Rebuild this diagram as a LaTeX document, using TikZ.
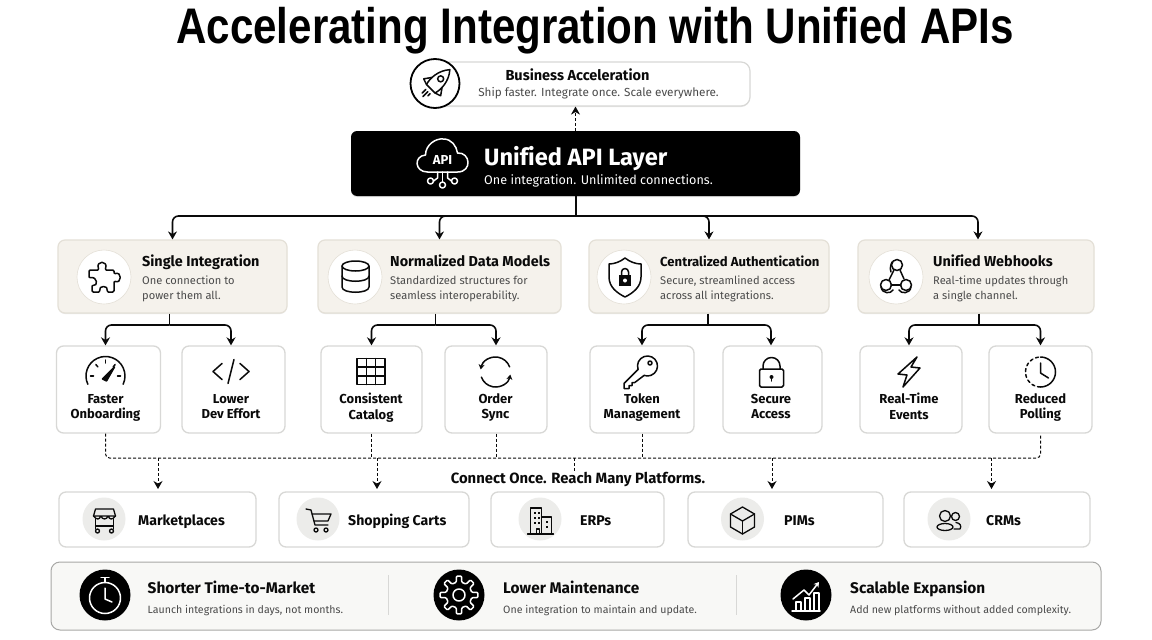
\documentclass[tikz,border=0pt]{standalone}
\usepackage{fontspec}
\usepackage{graphicx}
\setmainfont[Ligatures=NoCommon]{Fira Sans}
\newfontfamily\titlefont{Liberation Sans}
\usetikzlibrary{calc,shadows,arrows.meta}
\definecolor{inkblack}{HTML}{0A0A0A}
\definecolor{subgrey}{HTML}{4A4A4A}
\definecolor{beige}{HTML}{F5F2EC}
\definecolor{beigeline}{HTML}{E4E0D7}
\definecolor{cardline}{HTML}{D8D8D6}
\definecolor{discgrey}{HTML}{ECECEA}
\definecolor{bandfill}{HTML}{F8F8F6}
\definecolor{bandline}{HTML}{A8A8A6}
\tikzset{>={Stealth[length=8pt,width=9pt]},
  topcard/.style={draw=cardline, line width=1.2pt, fill=white, rounded corners=9, drop shadow={shadow xshift=0pt, shadow yshift=-1pt, opacity=.18}},
  layerbox/.style={fill=black, rounded corners=6, drop shadow={shadow xshift=0pt, shadow yshift=-1pt, opacity=.25}},
  groupcard/.style={draw=beigeline, line width=1.2pt, fill=beige, rounded corners=7, drop shadow={shadow xshift=0pt, shadow yshift=-1pt, opacity=.18}},
  smallcard/.style={draw=cardline, line width=1.3pt, fill=white, rounded corners=7},
  platcard/.style={draw=cardline, line width=1.3pt, fill=white, rounded corners=7},
  whitedisc/.style={circle, fill=white, draw=beigeline, line width=.6pt, minimum size=54},
  greydisc/.style={circle, fill=discgrey, minimum size=43},
  blackdisc/.style={circle, fill=black, minimum size=51},
  band/.style={draw=bandline, line width=1pt, fill=bandfill, rounded corners=9},
  treeline/.style={->, line width=1.6pt, rounded corners=6, color=inkblack},
  stemline/.style={line width=1.6pt, color=inkblack},
  dashline/.style={dash pattern=on 3pt off 2pt, line width=1pt, color=inkblack, rounded corners=4},
  droparrow/.style={->, dashline},
  icon/.style={line width=1.5pt, line cap=round, line join=round, color=inkblack},
  whiteicon/.style={line width=1.5pt, line cap=round, line join=round, color=white},
  headtext/.style={anchor=base west, inner sep=0, font=\fontsize{14.4}{17}\selectfont\bfseries, text=inkblack},
  subtext/.style={anchor=west, inner sep=0, align=left, font=\fontsize{11.1}{15}\selectfont, text=subgrey, execute at begin node=\strut, execute at end node=\strut},
  labeltext/.style={anchor=center, inner sep=0, align=center, font=\fontsize{13}{15.2}\selectfont\bfseries, text=inkblack, execute at begin node=\strut, execute at end node=\strut},
  plattext/.style={anchor=base west, inner sep=0, font=\fontsize{14.1}{17}\selectfont\bfseries, text=inkblack},
  bandhead/.style={anchor=base west, inner sep=0, font=\fontsize{15.4}{18}\selectfont\bfseries, text=inkblack},
  bandsub/.style={anchor=base west, inner sep=0, font=\fontsize{10.6}{14}\selectfont, text=subgrey},
}
\begin{document}
\begin{tikzpicture}[x=1pt, y=-1pt]
    \useasboundingbox (0,0) rectangle (1152,640);
    \fill[white] (0,0) rectangle (1152,640);
    \node[anchor=base, inner sep=0, font=\titlefont\fontsize{50}{56}\selectfont\bfseries, text=black] (title) at (595,43) {\scalebox{0.842}[1]{Accelerating Integration with Unified APIs}};
    % top of the stack
    \node[topcard, minimum width=315, minimum height=44] (accel) at (592.5,84) {};
    \node[circle, draw=black, fill=white, line width=1.8pt, minimum size=49] (discAccel) at (435,83.5) {};
    \node[anchor=base, inner sep=0, font=\fontsize{14.5}{17}\selectfont\bfseries, text=inkblack] (headAccel) at (577.5,80) {Business Acceleration};
    \node[anchor=base, inner sep=0, font=\fontsize{11.7}{15}\selectfont, text=subgrey] (subAccel) at (598.5,96) {Ship faster. Integrate once. Scale everywhere.};
    \node[layerbox, minimum width=449, minimum height=65] (layer) at (575.5,163.5) {};
    \node[anchor=base west, inner sep=0, font=\fontsize{23.6}{28}\selectfont\bfseries, text=white] (headLayer) at (484,165) {Unified API Layer};
    \node[anchor=base west, inner sep=0, font=\fontsize{12.6}{17}\selectfont, text=white] (subLayer) at (484,184.5) {One integration. Unlimited connections.};
    \draw[droparrow] (layer.north) -- (layer.north |- accel.south);
    % second row
    \node[groupcard, minimum width=229, minimum height=73] (cardSingle) at (172.5,276.5) {};
    \node[groupcard, minimum width=243, minimum height=73] (cardModels) at (439.5,276.5) {};
    \node[groupcard, minimum width=240, minimum height=73] (cardAuth) at (709,276.5) {};
    \node[groupcard, minimum width=236, minimum height=73] (cardHooks) at (976,276.5) {};
    \node[whitedisc] (discSingle) at (104,277) {};
    \node[whitedisc] (discModels) at (355,277) {};
    \node[whitedisc] (discAuth) at (624,277) {};
    \node[whitedisc] (discHooks) at (896,277) {};
    \node[headtext] (headSingle) at (142,266) {Single Integration};
    \node[headtext] (headModels) at (390,266) {Normalized Data Models};
    \node[headtext, font=\fontsize{13.1}{17}\selectfont\bfseries] (headAuth) at (660,266) {Centralized Authentication};
    \node[headtext] (headHooks) at (933,266) {Unified Webhooks};
    \node[subtext] (subSingle) at (142,289.5) {One connection to\\power them all.};
    \node[subtext] (subModels) at (390,289.5) {Standardized structures for\\seamless interoperability.};
    \node[subtext] (subAuth) at (660,289.5) {Secure, streamlined access\\across all integrations.};
    \node[subtext] (subHooks) at (933,289.5) {Real-time updates through\\a single channel.};
    \coordinate (hub) at (576,216);
    \draw[stemline] (layer.south -| hub) -- (hub);
    \draw[treeline] (hub) -| (cardSingle.north);
    \draw[treeline] (hub) -| (cardModels.north);
    \draw[treeline] (hub) -| (cardAuth.north);
    \draw[treeline] (hub) -| ($(cardHooks.north)+(2,0)$);
    % third row
    \node[smallcard, minimum width=104, minimum height=87] (cardFaster) at (108.5,389.5) {};
    \node[smallcard, minimum width=103, minimum height=87] (cardDev) at (233.5,389.5) {};
    \node[smallcard, minimum width=101, minimum height=87] (cardCatalog) at (371.5,389.5) {};
    \node[smallcard, minimum width=102, minimum height=87] (cardOrder) at (496,389.5) {};
    \node[smallcard, minimum width=104, minimum height=87] (cardToken) at (642,389.5) {};
    \node[smallcard, minimum width=99, minimum height=87] (cardSecure) at (772.5,389.5) {};
    \node[smallcard, minimum width=102, minimum height=87] (cardEvents) at (911,389.5) {};
    \node[smallcard, minimum width=103, minimum height=87] (cardPolling) at (1040.5,389.5) {};
    \node[labeltext] (labFaster) at (105.5,408.5) {Faster\\Onboarding};
    \node[labeltext] (labDev) at (231,408.5) {Lower\\Dev Effort};
    \node[labeltext] (labCatalog) at (371,408.5) {Consistent\\Catalog};
    \node[labeltext] (labOrder) at (495.5,408.5) {Order\\Sync};
    \node[labeltext] (labToken) at (642,408.5) {Token\\Management};
    \node[labeltext] (labSecure) at (771,408.5) {Secure\\Access};
    \node[labeltext] (labEvents) at (909,408.5) {Real-Time\\Events};
    \node[labeltext] (labPolling) at (1040.5,408.5) {Reduced\\Polling};
    \coordinate (forkSingle) at (169.5,325);
    \coordinate (forkModels) at (435.5,325);
    \coordinate (forkAuth) at (708,325);
    \coordinate (forkHooks) at (979,325);
    \draw[stemline] (cardSingle.south -| forkSingle) -- (forkSingle);
    \draw[stemline] (cardModels.south -| forkModels) -- (forkModels);
    \draw[stemline] (cardAuth.south -| forkAuth) -- (forkAuth);
    \draw[stemline] (cardHooks.south -| forkHooks) -- (forkHooks);
    \draw[treeline] (forkSingle) -| ($(cardFaster.north)+(-3,0)$);
    \draw[treeline] (forkSingle) -| ($(cardDev.north)+(-2.5,0)$);
    \draw[treeline] (forkModels) -| (cardCatalog.north);
    \draw[treeline] (forkModels) -| (cardOrder.north);
    \draw[treeline] (forkAuth) -| (cardToken.north);
    \draw[treeline] (forkAuth) -| ($(cardSecure.north)+(-1.5,0)$);
    \draw[treeline] (forkHooks) -| ($(cardEvents.north)+(-2,0)$);
    \draw[treeline] (forkHooks) -| (cardPolling.north);
    % dashed bus
    \coordinate (bus) at (574,458);
    \node[anchor=base, inner sep=0, font=\fontsize{14.85}{17}\selectfont\bfseries, text=inkblack] (connect) at (578,483) {Connect Once. Reach Many Platforms.};
    \draw[dashline] ($(cardFaster.south)+(-3,0)$) |- (bus) -| (cardPolling.south);
    \draw[dashline] ($(cardDev.south)+(-2.5,0)$) -- ($(cardDev.south)+(-2.5,0)$ |- bus);
    \draw[dashline] (cardCatalog.south) -- (cardCatalog.south |- bus);
    \draw[dashline] (cardOrder.south) -- (cardOrder.south |- bus);
    \draw[dashline] (cardToken.south) -- (cardToken.south |- bus);
    \draw[dashline] ($(cardSecure.south)+(-1.5,0)$) -- ($(cardSecure.south)+(-1.5,0)$ |- bus);
    \draw[dashline] ($(cardEvents.south)+(-2,0)$) -- ($(cardEvents.south)+(-2,0)$ |- bus);
    \draw[dashline] (bus) -- (connect.north -| bus);
    % platforms
    \node[platcard, minimum width=197, minimum height=55] (platMarket) at (157.5,519.5) {};
    \node[platcard, minimum width=190, minimum height=55] (platCarts) at (374,519.5) {};
    \node[platcard, minimum width=173, minimum height=55] (platErp) at (577.5,519.5) {};
    \node[platcard, minimum width=195, minimum height=55] (platPim) at (785.5,519.5) {};
    \node[platcard, minimum width=186, minimum height=55] (platCrm) at (997,519.5) {};
    \node[greydisc] (discMarket) at (104,519) {};
    \node[greydisc] (discCarts) at (318,519) {};
    \node[greydisc] (discErp) at (540,519) {};
    \node[greydisc] (discPim) at (742.5,519) {};
    \node[greydisc] (discCrm) at (949,519) {};
    \node[plattext] (txtMarket) at (138,525) {Marketplaces};
    \node[plattext] (txtCarts) at (348,525) {Shopping Carts};
    \node[plattext] (txtErp) at (580,525) {ERPs};
    \node[plattext] (txtPim) at (784,525) {PIMs};
    \node[plattext] (txtCrm) at (986,525) {CRMs};
    \coordinate (inMarket) at (158,489);
    \coordinate (inCarts) at (377,489);
    \coordinate (inPim) at (772,489);
    \coordinate (inCrm) at (991.5,489);
    \draw[droparrow] (inMarket |- bus) -- (inMarket);
    \draw[droparrow] (inCarts |- bus) -- (inCarts);
    \draw[droparrow] (inPim |- bus) -- (inPim);
    \draw[droparrow] (inCrm |- bus) -- (inCrm);
    % bottom band
    \node[band, minimum width=1050, minimum height=68] (bandBox) at (576,596) {};
    \draw[color=cardline, line width=1pt] (388,575) -- (388,615);
    \draw[color=cardline, line width=1pt] (736,575) -- (736,615);
    \node[blackdisc] (discTime) at (105,595) {};
    \node[blackdisc] (discMaint) at (459,595) {};
    \node[blackdisc] (discScale) at (806,595) {};
    \node[bandhead] (headTime) at (147.5,593) {Shorter Time-to-Market};
    \node[bandhead] (headMaint) at (503,593) {Lower Maintenance};
    \node[bandhead] (headScale) at (850,593) {Scalable Expansion};
    \node[bandsub] (subTime) at (147.5,613) {Launch integrations in days, not months.};
    \node[bandsub] (subMaint) at (503,613) {One integration to maintain and update.};
    \node[bandsub] (subScale) at (850,613) {Add new platforms without added complexity.};
    % rocket
    \begin{scope}[shift={(435,84.5)}, rotate=-45, icon]
      \draw (0,-21) .. controls (8,-12) and (8,0) .. (6,6) -- (-6,6) .. controls (-8,0) and (-8,-12) .. (0,-21) -- cycle;
      \draw (0,-8) circle (3);
      \draw (-7,-3) -- (-12,4) -- (-6,6);
      \draw (7,-3) -- (12,4) -- (6,6);
      \draw (-3,10) -- (-3,15);
      \draw (0,10) -- (0,17);
      \draw (3,10) -- (3,13);
    \end{scope}
    % cloud
    \begin{scope}[shift={(442.5,156)}, whiteicon]
      \draw (-15,16) .. controls (-28,16) and (-29,0) .. (-17,-1) .. controls (-17,-11) and (-7,-18) .. (1,-17) .. controls (9,-17) and (14,-10) .. (15,-3) .. controls (28,-4) and (30,16) .. (15,16) -- cycle;
      \node[anchor=center, inner sep=0, font=\fontsize{13}{15}\selectfont\bfseries, text=white] (apiTag) at (0,4) {API};
      \draw (0,16) -- (0,26);
      \draw (0,29) circle (3);
      \draw (-5,16) -- (-5,22) -- (-9,25);
      \draw (-12,25) circle (3);
      \draw (5,16) -- (5,22) -- (9,25);
      \draw (12,25) circle (3);
    \end{scope}
    % puzzle
    \begin{scope}[shift={(104,277)}, icon, rounded corners=1.2]
      \draw (-15,-7) -- (-5,-7) .. controls (-9,-17) and (5,-17) .. (1,-7) -- (10,-7) -- (10,-3) .. controls (18,-6) and (18,7) .. (10,4) -- (10,15) -- (3,15) .. controls (5,8) and (-6,8) .. (-4,15) -- (-12,15) -- (-12,8) .. controls (-6,10) and (-6,-1) .. (-15,1) -- cycle;
    \end{scope}
    % database
    \begin{scope}[shift={(355.5,277)}, icon]
      \draw (0,-11) ellipse (13.5 and 5);
      \draw (-13.5,-11) -- (-13.5,10) .. controls (-13.5,17) and (13.5,17) .. (13.5,10) -- (13.5,-11);
      \draw (-13.5,-1) .. controls (-13.5,6) and (13.5,6) .. (13.5,-1);
    \end{scope}
    % shield
    \begin{scope}[shift={(625,277)}, icon]
      \draw (0,-19) .. controls (5,-15) and (11,-13) .. (16,-13) -- (16,0) .. controls (16,10) and (8,16) .. (0,20) .. controls (-8,16) and (-16,10) .. (-16,0) -- (-16,-13) .. controls (-11,-13) and (-5,-15) .. (0,-19) -- cycle;
      \fill (-6,-2) rectangle (6,9);
      \draw (-3.5,-2) -- (-3.5,-5) arc[start angle=180, end angle=360, radius=3.5] -- (3.5,-2);
      \fill[white] (0,3.5) circle (2);
    \end{scope}
    % webhook
    \begin{scope}[shift={(896,277)}, icon]
      \draw (1,-12) circle (5.5);
      \draw (-10,8) circle (5.5);
      \draw (10,8) circle (5.5);
      \draw (-2,-7) -- (-7,3);
      \draw (4,-7) -- (8,2);
      \draw (-5,8) -- (5,8);
      \draw (-4,-15) .. controls (-7,-8) and (-5,-7) .. (-5,-5);
      \draw (-15,10) .. controls (-14,17) and (-5,17) .. (-3,13);
      \draw (15,10) .. controls (14,17) and (5,17) .. (3,13);
    \end{scope}
    % gauge
    \begin{scope}[shift={(105.5,376)}, icon]
      \draw (155:19.5) arc[start angle=155, end angle=385, radius=19.5];
      \draw (230:15) -- (230:12);
      \draw (270:16) -- (270:13);
      \draw (180:15) -- (180:12);
      \draw (0:15) -- (0:12);
      \draw (310:15) -- (310:12);
      \draw[fill=inkblack] (-3,3) -- (9,-9) -- (1,5) -- cycle;
    \end{scope}
    % code
    \begin{scope}[shift={(231,371.5)}, icon]
      \draw (-9,-8) -- (-18,0) -- (-9,8);
      \draw (9,-8) -- (18,0) -- (9,8);
      \draw (3,-12) -- (-3,12);
    \end{scope}
    % grid
    \begin{scope}[shift={(371,371.5)}, icon]
      \draw (-14,-13) rectangle (14,13);
      \draw (-4.7,-13) -- (-4.7,13);
      \draw (4.7,-13) -- (4.7,13);
      \draw (-14,-4.3) -- (14,-4.3);
      \draw (-14,4.3) -- (14,4.3);
    \end{scope}
    % sync
    \begin{scope}[shift={(495.5,372)}, icon, >={Stealth[length=5pt,width=6pt]}]
      \draw[<-] (190:15) arc[start angle=190, end angle=340, radius=15];
      \draw[<-] (10:15) arc[start angle=10, end angle=160, radius=15];
    \end{scope}
    % key
    \begin{scope}[shift={(639,372.5)}, icon]
      \draw (-0.9,-3.1) arc[start angle=160, end angle=470, radius=10];
      \draw (-0.9,-3.1) -- (-15,11) -- (-15,16) -- (-10,16) -- (-10,13) -- (-7,13) -- (-7,10) -- (-4.2,10) -- (5.1,2.9);
      \draw (11,-9.5) circle (2);
    \end{scope}
    % padlock
    \begin{scope}[shift={(771.5,372)}, icon]
      \draw[rounded corners=1.5] (-12,-3) rectangle (12,15);
      \draw (-8.5,-3) -- (-8.5,-6) arc[start angle=180, end angle=360, radius=8.5] -- (8.5,-3);
      \fill (0,5) circle (2);
      \draw (0,5) -- (0,9);
    \end{scope}
    % bolt
    \begin{scope}[shift={(909,372)}, icon]
      \draw (8,-15) -- (-11,2) -- (-2,3) -- (-6,15) -- (11,-4) -- (2,-5) -- cycle;
    \end{scope}
    % clock
    \begin{scope}[shift={(1040.5,372)}, icon]
      \draw (0,-15) arc[start angle=270, end angle=450, radius=15];
      \draw[dash pattern=on 3pt off 3pt] (0,15) arc[start angle=90, end angle=270, radius=15];
      \draw (0,-9) -- (0,1) -- (8,6);
    \end{scope}
    % stall
    \begin{scope}[shift={(104.5,520)}, icon, line width=1.3pt]
      \draw (-11,-4) -- (-9,-11) -- (9,-11) -- (11,-4);
      \draw (-11,-4) .. controls (-8,0) and (-5,0) .. (-3.7,-4) .. controls (-2,0) and (2,0) .. (3.7,-4) .. controls (5,0) and (8,0) .. (11,-4) -- cycle;
      \draw (-9,-1) -- (-9,9);
      \draw (9,-1) -- (9,9);
      \draw (-9,6) -- (9,6);
      \draw (-7,11) circle (2);
      \draw (7,11) circle (2);
    \end{scope}
    % cart
    \begin{scope}[shift={(318,520)}, icon, line width=1.3pt]
      \draw (-12,-11) -- (-7,-10) -- (-3,5) -- (10,5);
      \draw (-6,-6) -- (13,-6) -- (10,1) -- (-4,1);
      \draw (-2,10) circle (2);
      \draw (8,10) circle (2);
    \end{scope}
    % building
    \begin{scope}[shift={(540.5,521)}, icon, line width=1.3pt]
      \draw (-10,13) -- (-10,-13) -- (1,-13) -- (1,13);
      \draw (1,-4) -- (11,-4) -- (11,13);
      \draw (-13,13) -- (13,13);
      \draw (-4,13) -- (-4,8) -- (-1,8) -- (-1,13);
      \fill (-7,-9) rectangle (-5,-7);
      \fill (-3,-9) rectangle (-1,-7);
      \fill (-7,-4) rectangle (-5,-2);
      \fill (-3,-4) rectangle (-1,-2);
      \fill (-7,1) rectangle (-5,3);
      \fill (-3,1) rectangle (-1,3);
      \fill (5,0) rectangle (7,2);
      \fill (5,5) rectangle (7,7);
    \end{scope}
    % cube
    \begin{scope}[shift={(742.5,520)}, icon, line width=1.3pt]
      \draw (0,-13) -- (12,-6) -- (12,7) -- (0,14) -- (-12,7) -- (-12,-6) -- cycle;
      \draw (-12,-6) -- (0,1) -- (12,-6);
      \draw (0,1) -- (0,14);
    \end{scope}
    % people
    \begin{scope}[shift={(949,520)}, icon, line width=1.3pt]
      \draw (-4,-4) circle (5.5);
      \draw (-4,7) ellipse (8 and 3.5);
      \draw (6.5,-3.5) circle (4);
      \draw (7,2.5) .. controls (11,3) and (13,6) .. (11,9) -- (5,9);
    \end{scope}
    % stopwatch
    \begin{scope}[shift={(105,598)}, whiteicon]
      \draw (0,0) circle (15.5);
      \draw (0,-16) -- (0,-20);
      \draw (-4,-20.5) -- (4,-20.5);
      \draw (0,-10) -- (0,1) -- (7,4);
    \end{scope}
    % gear
    \begin{scope}[shift={(459,595)}, whiteicon, rounded corners=1]
      \draw (-12:13) -- (-8:19) -- (8:19) -- (12:13) -- (33:13) -- (37:19) -- (53:19) -- (57:13) -- (78:13) -- (82:19) -- (98:19) -- (102:13) -- (123:13) -- (127:19) -- (143:19) -- (147:13) -- (168:13) -- (172:19) -- (188:19) -- (192:13) -- (213:13) -- (217:19) -- (233:19) -- (237:13) -- (258:13) -- (262:19) -- (278:19) -- (282:13) -- (303:13) -- (307:19) -- (323:19) -- (327:13) -- cycle;
      \draw (0,0) circle (6);
    \end{scope}
    % chart
    \begin{scope}[shift={(806,596)}, whiteicon, >={Stealth[length=5pt,width=6pt]}]
      \draw (-14,15) -- (14,15);
      \draw (-10,15) -- (-10,6) -- (-5,6) -- (-5,15);
      \draw (-1,15) -- (-1,2) -- (4,2) -- (4,15);
      \draw (8,15) -- (8,-3) -- (13,-3) -- (13,15);
      \draw[->] (-13,3) -- (-2,-6) -- (3,-1) -- (13,-14);
    \end{scope}
  \end{tikzpicture}
\end{document}
